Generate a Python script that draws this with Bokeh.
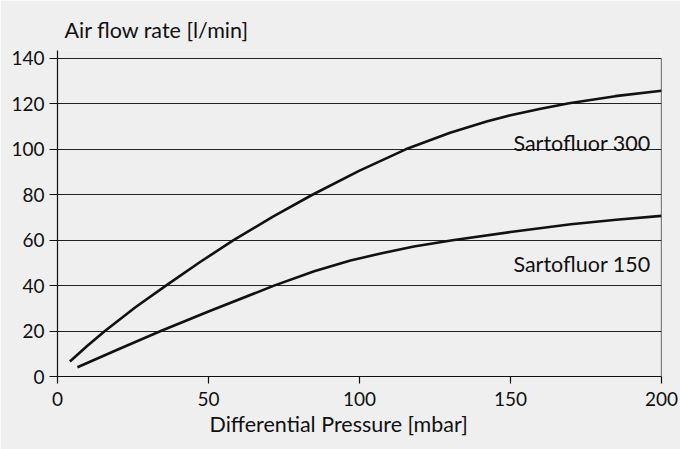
from bokeh.plotting import figure
from bokeh.models import Range1d, FixedTicker, Title
from bokeh.core.properties import value
from bokeh.embed import file_html
from bokeh.resources import INLINE

# ---- data ----
s300_x = [4.1, 9.9, 15.7, 25.8, 35.9, 47.1, 58.3, 71.35, 84.4, 99.85, 115.3, 130, 142.35, 150, 160, 169.4, 184.7, 200]
s300_y = [6.6, 13.5, 20, 30.5, 40, 50.3, 60, 70.4, 80, 90.5, 100, 107.3, 112.4, 115, 117.9, 120.3, 123.4, 125.8]
s150_x = [6.6, 20, 34.2, 50, 71.7, 85, 97, 107, 118, 130.8, 150, 170, 185, 200]
s150_y = [4.1, 11.9, 20, 28.6, 40, 46.3, 51.1, 54.1, 57.2, 60, 63.6, 67, 69, 70.7]
series_names = ["Sartofluor 300", "Sartofluor 150"]
x_ticks = [0, 50, 100, 150, 200]
y_ticks = [0, 20, 40, 60, 80, 100, 120, 140]
x_title = "Differential Pressure [mbar]"
y_title = "Air flow rate [l/min]"

# ---- style / layout ----
BG = "#efefef"
INK = "#111111"
FONT = "Lato"
FS_TICK = "19px"
FS_TEXT = "21.5px"

p = figure(width=680, height=449, output_backend="svg", toolbar_location=None,
           title=None, x_range=Range1d(0, 200), y_range=Range1d(0, 143.5),
           min_border_left=57, min_border_right=19, min_border_top=50, min_border_bottom=73)
p.background_fill_color = BG
p.border_fill_color = BG
p.outline_line_color = None

p.xgrid.grid_line_color = None
p.ygrid.ticker = FixedTicker(ticks=y_ticks)
p.ygrid.grid_line_color = "#222222"
p.ygrid.grid_line_width = 1

for ax in (p.xaxis[0], p.yaxis[0]):
    ax.axis_line_color = INK
    ax.axis_line_width = 1.2
    ax.major_tick_line_color = INK
    ax.major_tick_line_width = 1.2
    ax.minor_tick_line_color = None
    ax.major_tick_in = 0
    ax.major_label_text_font = FONT
    ax.major_label_text_font_size = FS_TICK
    ax.major_label_text_color = INK

p.xaxis.ticker = FixedTicker(ticks=x_ticks)
p.xaxis.major_tick_out = 7
p.xaxis.major_label_standoff = 8
p.yaxis.ticker = FixedTicker(ticks=y_ticks)
p.yaxis.major_tick_out = 8
p.yaxis.major_label_standoff = 5

# right border from 0 to top gridline
p.segment(x0=[x_ticks[-1]], y0=[y_ticks[0]], x1=[x_ticks[-1]], y1=[y_ticks[-1]],
          line_color=INK, line_width=1.2)

p.line(s300_x, s300_y, line_color=INK, line_width=2.6, line_join="round")
p.line(s150_x, s150_y, line_color=INK, line_width=2.6, line_join="round")

# series labels
p.text(x=[196.4], y=[102.7], text=[series_names[0]], text_align="right",
       text_baseline="alphabetic", text_font=value(FONT), text_font_size=FS_TEXT, text_color=INK)
p.text(x=[196.4], y=[49.6], text=[series_names[1]], text_align="right",
       text_baseline="alphabetic", text_font=value(FONT), text_font_size=FS_TEXT, text_color=INK)

# axis titles
p.add_layout(Title(text=y_title, align="left", offset=7, standoff=16,
                   text_font=FONT, text_font_size=FS_TEXT, text_font_style="normal",
                   text_color=INK), "above")
p.add_layout(Title(text=x_title, align="left", offset=152, standoff=4, vertical_align="top",
                   text_font=FONT, text_font_size=FS_TEXT, text_font_style="normal",
                   text_color=INK), "below")

open("out.html", "w").write(file_html(p, INLINE))
